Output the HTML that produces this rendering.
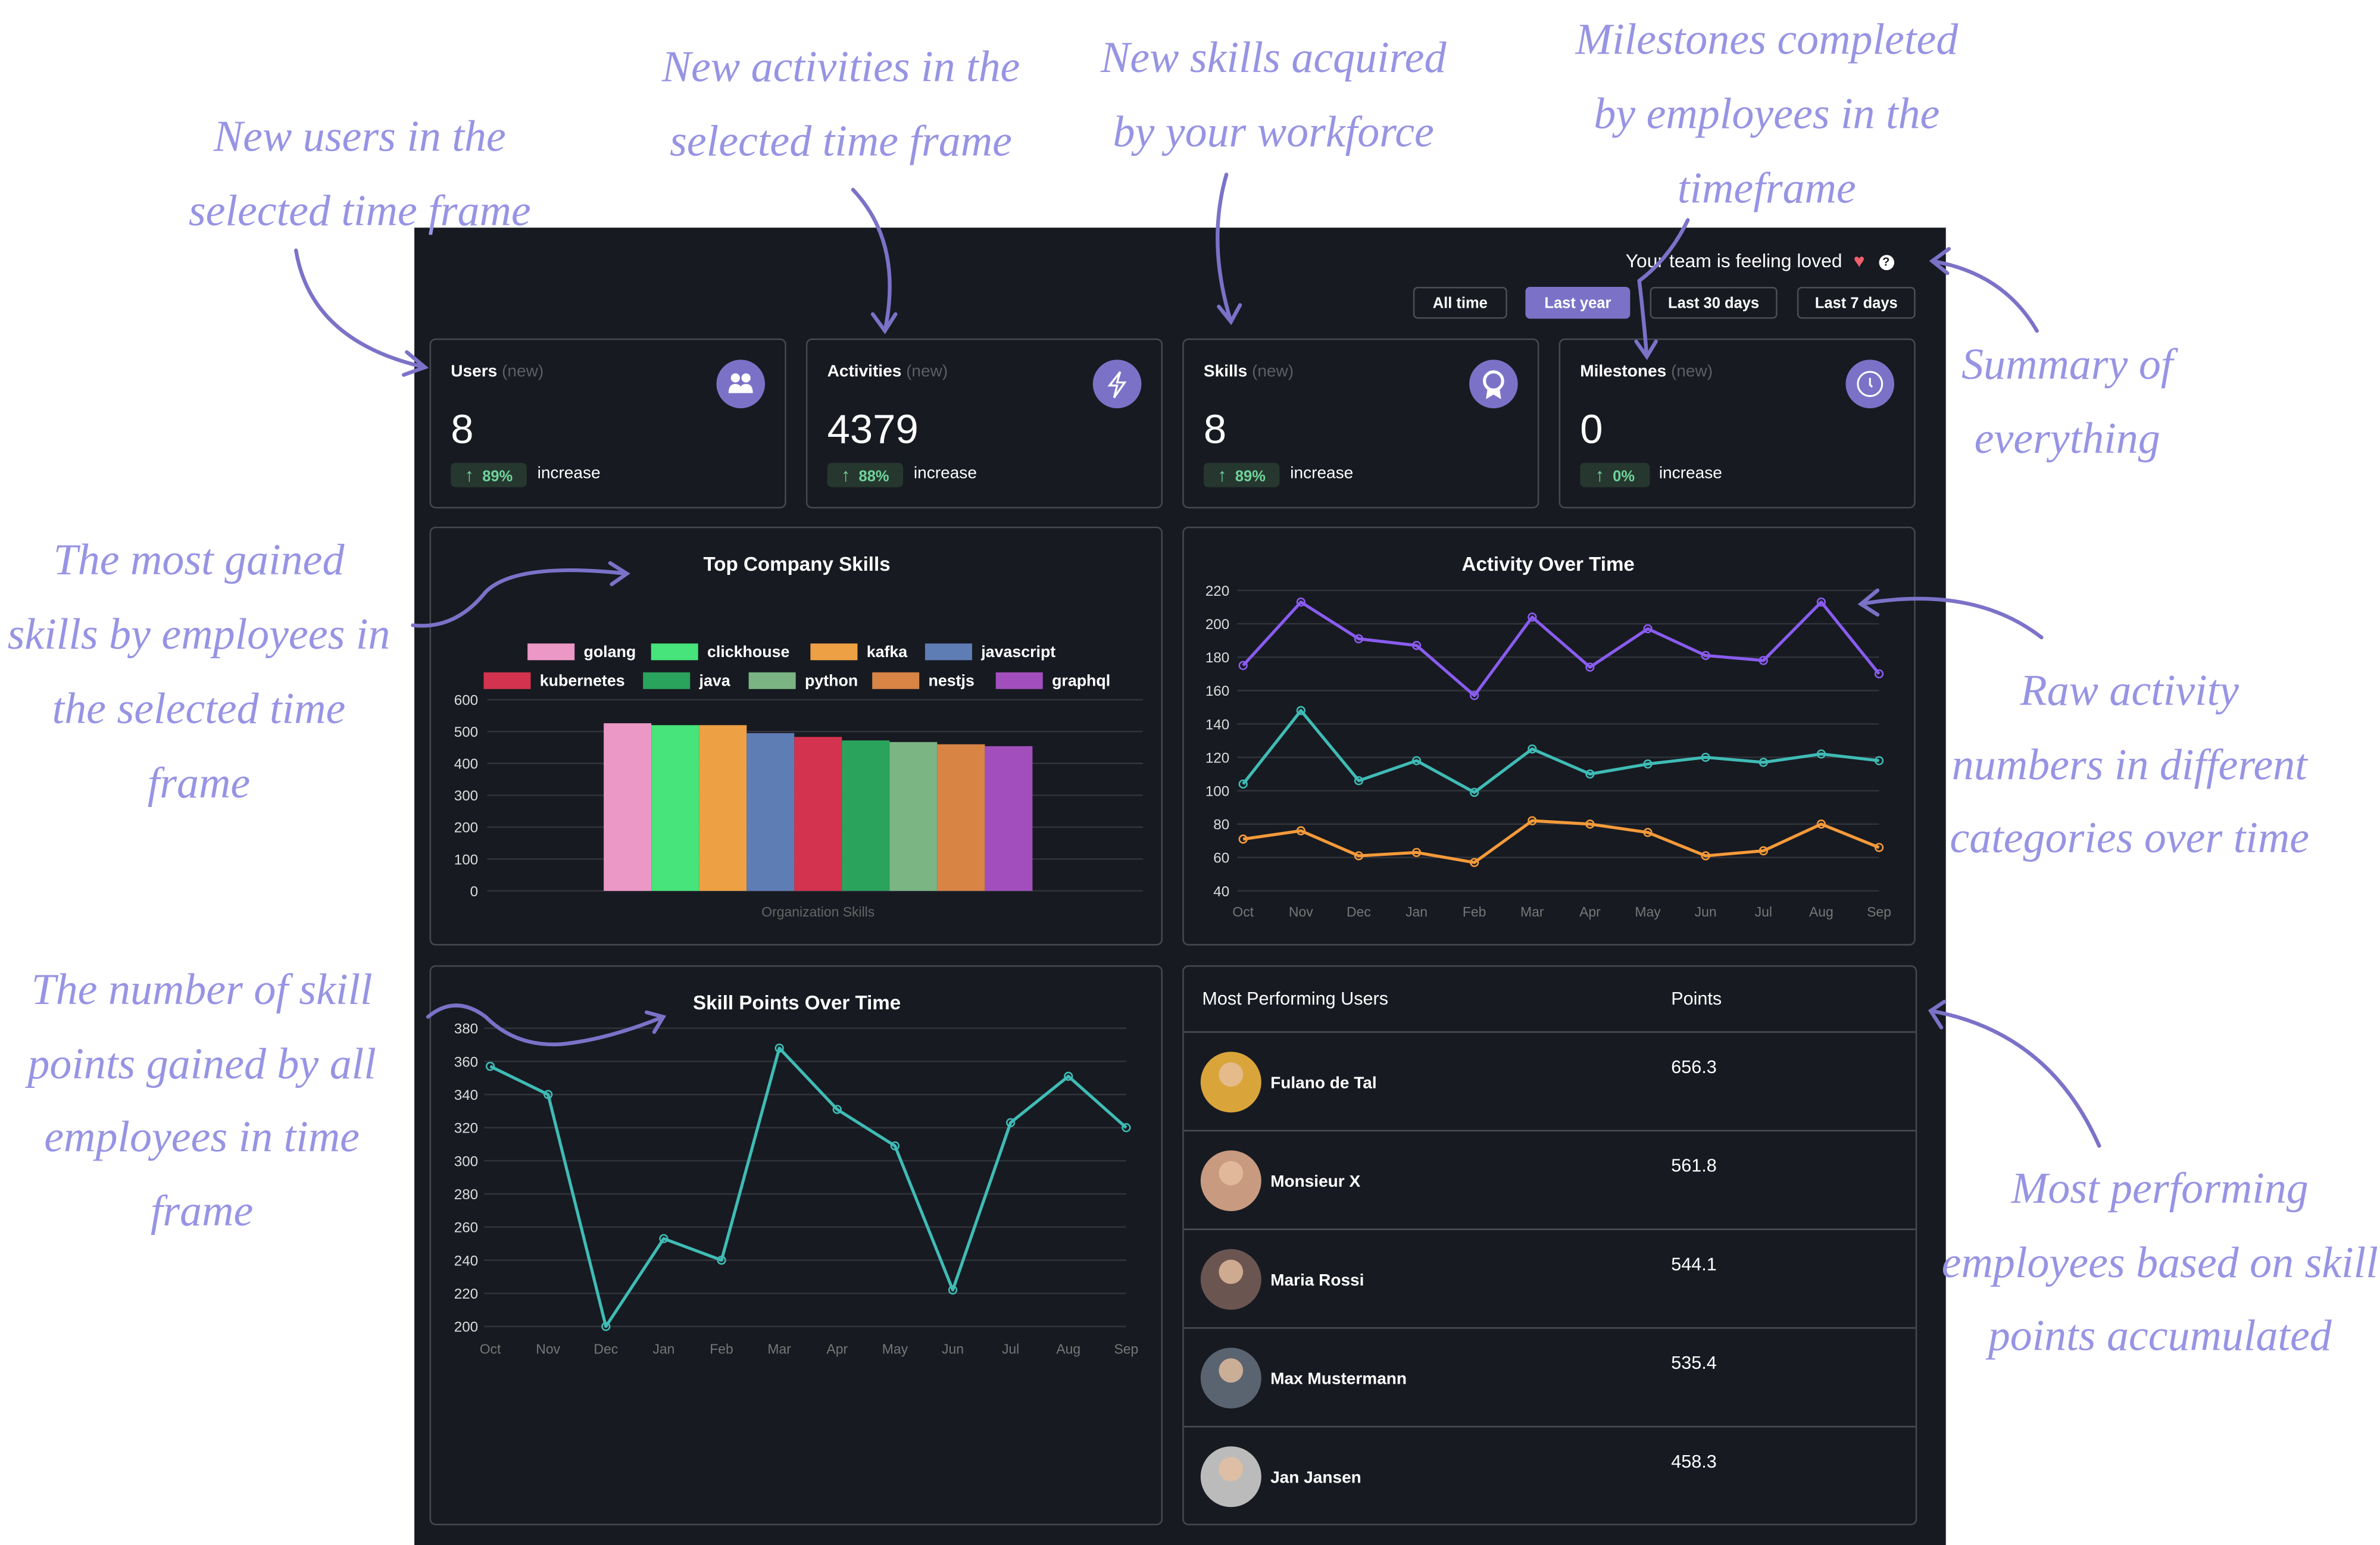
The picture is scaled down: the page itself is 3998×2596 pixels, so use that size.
<!DOCTYPE html>
<html><head><meta charset="utf-8">
<style>
html,body{margin:0;padding:0;background:#fff;width:3998px;height:2596px;overflow:hidden}
#root{position:absolute;left:0;top:0;width:1568px;height:1018px;transform:scale(2.5497,2.5501);transform-origin:0 0;font-family:"Liberation Sans",sans-serif}
.dash{position:absolute;left:273px;top:150px;width:1009px;height:868px;background:#171a21}
.card{position:absolute;border:1px solid #45484e;border-radius:4px;background:#171a21;box-sizing:border-box}
.lbl{position:absolute;left:13px;top:15px;font-size:11px;color:#fff;font-weight:bold}
.lbl span{color:#5c5f65;font-weight:normal}
.num{position:absolute;left:13px;top:44px;font-size:27px;color:#fff}
.badge{position:absolute;left:13px;top:81px;width:50px;height:16px;background:#26372f;border-radius:3px;color:#6fd39a;font-size:10px;font-weight:bold;line-height:16px;text-align:center}
.inc{position:absolute;left:70px;top:82px;font-size:11px;color:#fff}
.ico{position:absolute;right:13px;top:13px;width:32px;height:32px;border-radius:50%;background:#7b72c8}
.btn{position:absolute;top:189px;height:21px;border:1px solid #4a4d52;border-radius:3px;color:#fff;font-size:10px;font-weight:bold;line-height:21px;text-align:center;box-sizing:border-box}
.ann{position:absolute;color:#9794e4;font-family:"Liberation Serif",serif;font-style:italic;font-size:29px;white-space:nowrap;transform:translate(-50%,-50%)}
svg text{font-family:"Liberation Sans",sans-serif}
</style></head><body>
<div id="root">
<div class="dash"></div>

<div style="position:absolute;left:1071px;top:165px;font-size:12.5px;color:#fff;white-space:nowrap">Your team is feeling loved <span style="color:#f0616b;margin-left:4px">&#9829;</span><span style="display:inline-block;margin-left:9px;width:10px;height:10px;border-radius:50%;background:#fff;color:#171a21;font-size:8px;font-weight:bold;text-align:center;line-height:10px;vertical-align:1px">?</span></div>
<div class="btn" style="left:931px;width:62px">All time</div>
<div class="btn" style="left:1005px;width:69px;background:#7b72c8;border-color:#7b72c8">Last year</div>
<div class="btn" style="left:1087px;width:84px">Last 30 days</div>
<div class="btn" style="left:1184px;width:78px">Last 7 days</div>

<div class="card" style="left:283px;top:223px;width:235px;height:112px">
 <div class="lbl">Users <span>(new)</span></div><div class="num">8</div>
 <div class="badge"><b style="font-size:12px">&#8593;</b>&nbsp; 89%</div><div class="inc">increase</div>
 <div class="ico"><svg width="32" height="32"><circle cx="12.5" cy="12" r="3" fill="#fff"/><circle cx="19.5" cy="12" r="3" fill="#fff"/><path d="M8 22q0-6 4.5-6t4.5 6z M15 22q0-6 4.5-6t4.5 6z" fill="#fff"/></svg></div>
</div>
<div class="card" style="left:531px;top:223px;width:235px;height:112px">
 <div class="lbl">Activities <span>(new)</span></div><div class="num">4379</div>
 <div class="badge"><b style="font-size:12px">&#8593;</b>&nbsp; 88%</div><div class="inc">increase</div>
 <div class="ico"><svg width="32" height="32"><path d="M18 8L11 17h5l-2 8 7-10h-5z" fill="none" stroke="#fff" stroke-width="1.3"/></svg></div>
</div>
<div class="card" style="left:779px;top:223px;width:235px;height:112px">
 <div class="lbl">Skills <span>(new)</span></div><div class="num">8</div>
 <div class="badge"><b style="font-size:12px">&#8593;</b>&nbsp; 89%</div><div class="inc">increase</div>
 <div class="ico"><svg width="32" height="32"><circle cx="16" cy="14" r="6" fill="none" stroke="#fff" stroke-width="2"/><path d="M12 19l-1 7 5-3 5 3-1-7" fill="#fff"/></svg></div>
</div>
<div class="card" style="left:1027px;top:223px;width:235px;height:112px">
 <div class="lbl">Milestones <span>(new)</span></div><div class="num">0</div>
 <div class="badge" style="width:46px"><b style="font-size:12px">&#8593;</b>&nbsp; 0%</div><div class="inc" style="left:65px">increase</div>
 <div class="ico"><svg width="32" height="32"><circle cx="16" cy="16" r="8" fill="none" stroke="#fff" stroke-width="1.2"/><path d="M16 12v4.5l1.5 1.5" stroke="#fff" fill="none" stroke-width="1.2"/></svg></div>
</div>

<div class="card" style="left:283px;top:347px;width:483px;height:276px"></div>
<div class="card" style="left:779px;top:347px;width:483px;height:276px"></div>
<div class="card" style="left:283px;top:636px;width:483px;height:369px"></div>
<div class="card" style="left:779px;top:636px;width:484px;height:369px"></div>

<svg id="charts" width="1568" height="1018" style="position:absolute;left:0;top:0"></svg>

<div class="ann" style="left:237px;top:91px">New users in the</div>
<div class="ann" style="left:237px;top:140px">selected time frame</div>
<div class="ann" style="left:554px;top:45px">New activities in the</div>
<div class="ann" style="left:554px;top:94px">selected time frame</div>
<div class="ann" style="left:839px;top:39px">New skills acquired</div>
<div class="ann" style="left:839px;top:88px">by your workforce</div>
<div class="ann" style="left:1164px;top:27px">Milestones completed</div>
<div class="ann" style="left:1164px;top:76px">by employees in the</div>
<div class="ann" style="left:1164px;top:125px">timeframe</div>
<div class="ann" style="left:1362px;top:241px">Summary of</div>
<div class="ann" style="left:1362px;top:290px">everything</div>
<div class="ann" style="left:131px;top:370px">The most gained</div>
<div class="ann" style="left:131px;top:419px">skills by employees in</div>
<div class="ann" style="left:131px;top:468px">the selected time</div>
<div class="ann" style="left:131px;top:517px">frame</div>
<div class="ann" style="left:1403px;top:456px">Raw activity</div>
<div class="ann" style="left:1403px;top:505px">numbers in different</div>
<div class="ann" style="left:1403px;top:553px">categories over time</div>
<div class="ann" style="left:133px;top:653px">The number of skill</div>
<div class="ann" style="left:133px;top:702px">points gained by all</div>
<div class="ann" style="left:133px;top:750px">employees in time</div>
<div class="ann" style="left:133px;top:799px">frame</div>
<div class="ann" style="left:1423px;top:784px">Most performing</div>
<div class="ann" style="left:1423px;top:833px">employees based on skill</div>
<div class="ann" style="left:1423px;top:881px">points accumulated</div>

<svg width="1568" height="1018" style="position:absolute;left:0;top:0" fill="none" stroke="#7b72c8" stroke-width="2.5" stroke-linecap="round">
 <path d="M195 165Q205 225 280 242M268 232L280 242L266 247"/>
 <path d="M562 125Q595 160 583 218M575 207L583 218L590 207"/>
 <path d="M808 115Q795 160 811 212M803 202L811 212L817 201"/>
 <path d="M1112 145Q1100 170 1080 185Q1083 210 1085 235M1078 225L1085 235L1091 225"/>
 <path d="M1342 218Q1320 180 1273 172M1284 164L1273 172L1283 180"/>
 <path d="M272 412Q300 415 320 390Q340 370 413 378M402 371L413 378L403 385"/>
 <path d="M1345 420Q1300 385 1226 398M1237 389L1226 398L1237 405"/>
 <path d="M282 670Q300 655 320 670Q340 690 370 688Q400 685 437 670M426 667L437 670L431 680"/>
 <path d="M1383 755Q1350 680 1272 666M1281 660L1272 666L1279 677"/>
</svg>
</div>
<script>
const skillNames=["golang","clickhouse","kafka","javascript","kubernetes","java","python","nestjs","graphql"];
const skillValues=[526,520,520,495,483,472,467,460,454];
const skillColors=["#ec98c6","#46e47a","#eea144","#5f7db5","#d3334f","#2aa35c","#7bb584","#d88445","#a24fbd"];
const barTicks=[0,100,200,300,400,500,600];
const months=["Oct","Nov","Dec","Jan","Feb","Mar","Apr","May","Jun","Jul","Aug","Sep"];
const activityPurple=[175,213,191,187,157,204,174,197,181,178,213,170];
const activityTeal=[104,148,106,118,99,125,110,116,120,117,122,118];
const activityOrange=[71,76,61,63,57,82,80,75,61,64,80,66];
const activityTicks=[40,60,80,100,120,140,160,180,200,220];
const skillPoints=[357,340,200,253,240,368,331,309,222,323,351,320];
const skillPointTicks=[200,220,240,260,280,300,320,340,360,380];
const userNames=["Fulano de Tal","Monsieur X","Maria Rossi","Max Mustermann","Jan Jansen"];
const userPoints=["656.3","561.8","544.1","535.4","458.3"];
const avatarColors=["#d9a53b","#c89a80","#6b5550","#5a6470","#bbbbbb"];

const svg=document.getElementById('charts');
const NS="http://www.w3.org/2000/svg";
function mk(tag,attrs,parent){const e=document.createElementNS(NS,tag);for(const k in attrs)e.setAttribute(k,attrs[k]);(parent||svg).appendChild(e);return e;}
function txt(s,x,y,size,fill,anchor,weight){const t=mk('text',{x:x,y:y,'font-size':size,fill:fill,'text-anchor':anchor||'middle','font-weight':weight||'normal'});t.textContent=s;return t;}

let t;
t=txt("Top Company Skills",525,376,13,"#fff","middle","bold");


t=txt("Activity Over Time",1020,376,13,"#fff","middle","bold");


t=txt("Skill Points Over Time",525,665,13,"#fff","middle","bold");



const bx0=325,bx1=753,by0=587,by1=461;
function byS(v){return by0-(v-0)/(600-0)*(by0-by1);}
barTicks.forEach(v=>{
 const l=mk('line',{x1:bx0-4,x2:bx1,y1:byS(v),y2:byS(v),stroke:'#30333a','stroke-width':1});
 
 
 const tt=txt(String(v),315,byS(v)+3.5,9.5,"#ddd","end");
 
 
});
const groupW=(bx1-bx0)*0.66, bw=groupW/skillValues.length, gx=(bx0+bx1)/2-groupW/2;
skillValues.forEach((v,i)=>{
 const r=mk('rect',{x:gx+i*bw,y:byS(v),width:bw,height:by0-byS(v),fill:skillColors[i]});
 
 
});
t=txt("Organization Skills",539,604,9,"#666","middle");


const legRows=[[0,1,2,3],[4,5,6,7,8]];
legRows.forEach((row,ri)=>{
 const widths=row.map(i=>skillNames[i].length*5.9+46);
 const total=widths.reduce((a,b)=>a+b,0);
 let x=525-total/2+6;const y=ri?448:429;
 row.forEach((i,k)=>{
  const r=mk('rect',{x:x,y:y-5,width:31,height:11,fill:skillColors[i]});
  
  
  const tt=txt(skillNames[i],x+37,y+4,10.5,"#fff","start","bold");
  
  
  x+=widths[k];
 });
});

function lineChart(cfg){
 const {x0,x1,y0,y1,vmin,vmax,ticks,series,colors,labelY,tickX,prefix}=cfg;
 const ys=v=>y0-(v-vmin)/(vmax-vmin)*(y0-y1);
 const xs=i=>x0+i*(x1-x0)/(months.length-1);
 ticks.forEach(v=>{
  const l=mk('line',{x1:x0-4,x2:x1,y1:ys(v),y2:ys(v),stroke:'#30333a','stroke-width':1});
  
  
  const tt=txt(String(v),tickX,ys(v)+3.5,9.5,"#ddd","end");
  
  
 });
 months.forEach((m,i)=>{
  const tt=txt(m,xs(i),labelY,9,"#777","middle");
  
  
 });
 series.forEach((s,si)=>{
  const p=mk('polyline',{points:s.map((v,i)=>xs(i)+','+ys(v)).join(' '),fill:'none',stroke:colors[si],'stroke-width':2,'stroke-linejoin':'round'});
  
  
  s.forEach((v,i)=>{
   const c=mk('circle',{cx:xs(i),cy:ys(v),r:2.5,fill:'none',stroke:colors[si],'stroke-width':1});
   
   
  });
 });
}
lineChart({x0:819,x1:1238,y0:587,y1:389,vmin:40,vmax:220,ticks:activityTicks,series:[activityPurple,activityTeal,activityOrange],colors:["#8a5cf0","#3fbcb5","#f59a3a"],labelY:604,tickX:810,prefix:'activity'});
lineChart({x0:323,x1:742,y0:874,y1:677.5,vmin:200,vmax:380,ticks:skillPointTicks,series:[skillPoints],colors:["#3fbcb5"],labelY:892,tickX:315,prefix:'skill-points'});

t=txt("Most Performing Users",792,662,12,"#fff","start");


t=txt("Points",1101,662,12,"#fff","start");


userNames.forEach((n,i)=>{
 const top=680+i*65;
 const l=mk('line',{x1:780,x2:1262,y1:top,y2:top,stroke:'#4a4d52','stroke-width':1});
 
 
 const c=mk('circle',{cx:811,cy:top+33,r:20,fill:avatarColors[i]});
 
 
 const f=mk('circle',{cx:811,cy:top+28,r:8,fill:'#e7c0a0',opacity:0.8});
 
 
 const tt=txt(n,837,top+37,11,"#fff","start","bold");
 
 
 const pt=txt(userPoints[i],1101,top+27,12,"#fff","start");
 
 
});
</script>
</body></html>
